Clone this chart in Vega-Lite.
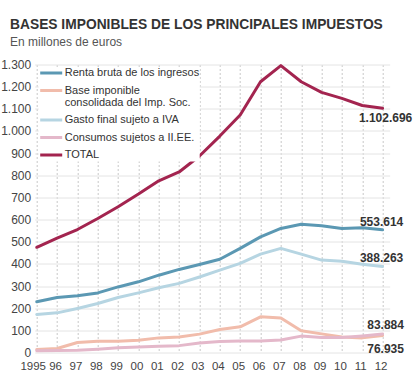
{
  "$schema": "https://vega.github.io/schema/vega-lite/v6.json",
  "autosize": {"type": "none"},
  "width": 355,
  "height": 288,
  "padding": {"left": 34.7, "top": 64.5, "right": 24.3, "bottom": 29.5},
  "background": "white",
  "title": {
    "text": "BASES IMPONIBLES DE LOS PRINCIPALES IMPUESTOS",
    "subtitle": "En millones de euros",
    "anchor": "start",
    "frame": "group",
    "dx": -24.7,
    "offset": 11,
    "font": "Liberation Sans",
    "fontSize": 13.8,
    "fontWeight": "bold",
    "color": "#333333",
    "subtitleFont": "Liberation Sans",
    "subtitleFontSize": 12,
    "subtitleColor": "#555555",
    "subtitlePadding": 5
  },
  "datasets": {
    "series": [
      {"year": 1995, "serie": "TOTAL", "value": 475},
      {"year": 1996, "serie": "TOTAL", "value": 516},
      {"year": 1997, "serie": "TOTAL", "value": 555},
      {"year": 1998, "serie": "TOTAL", "value": 605},
      {"year": 1999, "serie": "TOTAL", "value": 658},
      {"year": 2000, "serie": "TOTAL", "value": 715},
      {"year": 2001, "serie": "TOTAL", "value": 775},
      {"year": 2002, "serie": "TOTAL", "value": 815},
      {"year": 2003, "serie": "TOTAL", "value": 887},
      {"year": 2004, "serie": "TOTAL", "value": 977},
      {"year": 2005, "serie": "TOTAL", "value": 1072},
      {"year": 2006, "serie": "TOTAL", "value": 1222},
      {"year": 2007, "serie": "TOTAL", "value": 1295},
      {"year": 2008, "serie": "TOTAL", "value": 1222},
      {"year": 2009, "serie": "TOTAL", "value": 1174},
      {"year": 2010, "serie": "TOTAL", "value": 1147},
      {"year": 2011, "serie": "TOTAL", "value": 1115},
      {"year": 2012, "serie": "TOTAL", "value": 1102.696},
      {"year": 1995, "serie": "Renta bruta de los ingresos", "value": 229},
      {"year": 1996, "serie": "Renta bruta de los ingresos", "value": 248},
      {"year": 1997, "serie": "Renta bruta de los ingresos", "value": 256},
      {"year": 1998, "serie": "Renta bruta de los ingresos", "value": 269},
      {"year": 1999, "serie": "Renta bruta de los ingresos", "value": 296},
      {"year": 2000, "serie": "Renta bruta de los ingresos", "value": 319},
      {"year": 2001, "serie": "Renta bruta de los ingresos", "value": 349},
      {"year": 2002, "serie": "Renta bruta de los ingresos", "value": 375},
      {"year": 2003, "serie": "Renta bruta de los ingresos", "value": 397},
      {"year": 2004, "serie": "Renta bruta de los ingresos", "value": 421},
      {"year": 2005, "serie": "Renta bruta de los ingresos", "value": 470},
      {"year": 2006, "serie": "Renta bruta de los ingresos", "value": 522},
      {"year": 2007, "serie": "Renta bruta de los ingresos", "value": 560},
      {"year": 2008, "serie": "Renta bruta de los ingresos", "value": 579},
      {"year": 2009, "serie": "Renta bruta de los ingresos", "value": 572},
      {"year": 2010, "serie": "Renta bruta de los ingresos", "value": 560},
      {"year": 2011, "serie": "Renta bruta de los ingresos", "value": 563},
      {"year": 2012, "serie": "Renta bruta de los ingresos", "value": 553.614},
      {"year": 1995, "serie": "Gasto final sujeto a IVA", "value": 172},
      {"year": 1996, "serie": "Gasto final sujeto a IVA", "value": 179},
      {"year": 1997, "serie": "Gasto final sujeto a IVA", "value": 199},
      {"year": 1998, "serie": "Gasto final sujeto a IVA", "value": 221},
      {"year": 1999, "serie": "Gasto final sujeto a IVA", "value": 248},
      {"year": 2000, "serie": "Gasto final sujeto a IVA", "value": 269},
      {"year": 2001, "serie": "Gasto final sujeto a IVA", "value": 292},
      {"year": 2002, "serie": "Gasto final sujeto a IVA", "value": 312},
      {"year": 2003, "serie": "Gasto final sujeto a IVA", "value": 341},
      {"year": 2004, "serie": "Gasto final sujeto a IVA", "value": 372},
      {"year": 2005, "serie": "Gasto final sujeto a IVA", "value": 402},
      {"year": 2006, "serie": "Gasto final sujeto a IVA", "value": 444},
      {"year": 2007, "serie": "Gasto final sujeto a IVA", "value": 470},
      {"year": 2008, "serie": "Gasto final sujeto a IVA", "value": 444},
      {"year": 2009, "serie": "Gasto final sujeto a IVA", "value": 417},
      {"year": 2010, "serie": "Gasto final sujeto a IVA", "value": 412},
      {"year": 2011, "serie": "Gasto final sujeto a IVA", "value": 398},
      {"year": 2012, "serie": "Gasto final sujeto a IVA", "value": 388.263},
      {"year": 1995, "serie": "Base imponible consolidada del Imp. Soc.", "value": 14},
      {"year": 1996, "serie": "Base imponible consolidada del Imp. Soc.", "value": 18},
      {"year": 1997, "serie": "Base imponible consolidada del Imp. Soc.", "value": 45},
      {"year": 1998, "serie": "Base imponible consolidada del Imp. Soc.", "value": 51},
      {"year": 1999, "serie": "Base imponible consolidada del Imp. Soc.", "value": 51},
      {"year": 2000, "serie": "Base imponible consolidada del Imp. Soc.", "value": 55},
      {"year": 2001, "serie": "Base imponible consolidada del Imp. Soc.", "value": 66},
      {"year": 2002, "serie": "Base imponible consolidada del Imp. Soc.", "value": 70},
      {"year": 2003, "serie": "Base imponible consolidada del Imp. Soc.", "value": 83},
      {"year": 2004, "serie": "Base imponible consolidada del Imp. Soc.", "value": 104},
      {"year": 2005, "serie": "Base imponible consolidada del Imp. Soc.", "value": 116},
      {"year": 2006, "serie": "Base imponible consolidada del Imp. Soc.", "value": 161},
      {"year": 2007, "serie": "Base imponible consolidada del Imp. Soc.", "value": 156},
      {"year": 2008, "serie": "Base imponible consolidada del Imp. Soc.", "value": 98},
      {"year": 2009, "serie": "Base imponible consolidada del Imp. Soc.", "value": 84},
      {"year": 2010, "serie": "Base imponible consolidada del Imp. Soc.", "value": 70},
      {"year": 2011, "serie": "Base imponible consolidada del Imp. Soc.", "value": 66},
      {"year": 2012, "serie": "Base imponible consolidada del Imp. Soc.", "value": 76.935},
      {"year": 1995, "serie": "Consumos sujetos a II.EE.", "value": 8},
      {"year": 1996, "serie": "Consumos sujetos a II.EE.", "value": 9},
      {"year": 1997, "serie": "Consumos sujetos a II.EE.", "value": 10},
      {"year": 1998, "serie": "Consumos sujetos a II.EE.", "value": 15},
      {"year": 1999, "serie": "Consumos sujetos a II.EE.", "value": 21},
      {"year": 2000, "serie": "Consumos sujetos a II.EE.", "value": 25},
      {"year": 2001, "serie": "Consumos sujetos a II.EE.", "value": 28},
      {"year": 2002, "serie": "Consumos sujetos a II.EE.", "value": 31},
      {"year": 2003, "serie": "Consumos sujetos a II.EE.", "value": 43},
      {"year": 2004, "serie": "Consumos sujetos a II.EE.", "value": 50},
      {"year": 2005, "serie": "Consumos sujetos a II.EE.", "value": 52},
      {"year": 2006, "serie": "Consumos sujetos a II.EE.", "value": 52},
      {"year": 2007, "serie": "Consumos sujetos a II.EE.", "value": 56},
      {"year": 2008, "serie": "Consumos sujetos a II.EE.", "value": 74},
      {"year": 2009, "serie": "Consumos sujetos a II.EE.", "value": 68},
      {"year": 2010, "serie": "Consumos sujetos a II.EE.", "value": 68},
      {"year": 2011, "serie": "Consumos sujetos a II.EE.", "value": 75},
      {"year": 2012, "serie": "Consumos sujetos a II.EE.", "value": 83.884}
    ],
    "labels": [
      {"year": 2012, "value": 1102.696, "label": "1.102.696", "pos": "below"},
      {"year": 2012, "value": 553.614, "label": "553.614", "pos": "above"},
      {"year": 2012, "value": 388.263, "label": "388.263", "pos": "above"},
      {"year": 2012, "value": 83.884, "label": "83.884", "pos": "above2"},
      {"year": 2012, "value": 76.935, "label": "76.935", "pos": "below2"}
    ]
  },
  "encoding": {
    "x": {
      "field": "year",
      "type": "quantitative",
      "scale": {"domain": [1994.9, 2012.35], "nice": false, "zero": false},
      "axis": {
        "values": [1995, 1996, 1997, 1998, 1999, 2000, 2001, 2002, 2003, 2004, 2005, 2006, 2007, 2008, 2009, 2010, 2011, 2012],
        "title": null,
        "labelExpr": "datum.value == 1995 ? '1995' : slice(toString(datum.value), 2)",
        "grid": true,
        "gridDash": [2, 2],
        "gridColor": "#c8c8c8",
        "ticks": false,
        "domain": false,
        "labelPadding": 8,
        "labelOffset": {"condition": {"test": "datum.value == 1995", "value": -4}, "value": -2},
        "labelFont": "Liberation Sans",
        "labelFontSize": 11.5,
        "labelColor": "#444444",
        "labelFlush": false,
        "labelOverlap": false
      }
    },
    "y": {
      "field": "value",
      "type": "quantitative",
      "scale": {"domain": [0, 1300], "nice": false},
      "axis": {
        "values": [0, 100, 200, 300, 400, 500, 600, 700, 800, 900, 1000, 1100, 1200, 1300],
        "title": null,
        "labelExpr": "replace(format(datum.value, ','), ',', '.')",
        "grid": true,
        "gridColor": "#e4e4e4",
        "ticks": false,
        "domain": false,
        "labelPadding": 4,
        "labelFont": "Liberation Sans",
        "labelFontSize": 12,
        "labelColor": "#444444"
      }
    }
  },
  "layer": [
    {
      "data": {"name": "series"},
      "mark": {"type": "line", "strokeWidth": 3, "strokeCap": "round", "strokeJoin": "round"},
      "encoding": {
        "color": {
          "field": "serie",
          "type": "nominal",
          "scale": {
            "domain": ["Renta bruta de los ingresos", "Base imponible consolidada del Imp. Soc.", "Gasto final sujeto a IVA", "Consumos sujetos a II.EE.", "TOTAL"],
            "range": ["#5b98b3", "#f1bcab", "#b6d5e2", "#e4b8ca", "#a3244f"]
          },
          "legend": {
            "title": null,
            "orient": "none",
            "legendX": 4,
            "legendY": 3,
            "fillColor": "white",
            "padding": 0,
            "symbolType": "M-1,0L4.5,0",
            "symbolStrokeWidth": 3,
            "symbolSize": 64,
            "labelOffset": 15,
            "labelFont": "Liberation Sans",
            "labelFontSize": 11,
            "labelColor": "#333333",
            "labelLimit": 220,
            "rowPadding": 4.5,
            "labelExpr": "datum.label == 'Base imponible consolidada del Imp. Soc.' ? ['Base imponible', 'consolidada del Imp. Soc.'] : datum.label",
            "encode": {
              "labels": {
                "update": {
                  "lineHeight": {"value": 12.6}
                }
              }
            }
          }
        }
      }
    },
    {
      "data": {"name": "labels"},
      "transform": [{"filter": "datum.pos == 'below'"}],
      "mark": {"type": "text", "font": "Liberation Sans", "fontSize": 12, "fontWeight": "bold", "color": "#333333", "align": "center", "dx": 3, "dy": 10},
      "encoding": {"text": {"field": "label"}}
    },
    {
      "data": {"name": "labels"},
      "transform": [{"filter": "datum.pos == 'above'"}],
      "mark": {"type": "text", "font": "Liberation Sans", "fontSize": 12, "fontWeight": "bold", "color": "#333333", "align": "center", "dx": -1, "dy": -8},
      "encoding": {"text": {"field": "label"}}
    },
    {
      "data": {"name": "labels"},
      "transform": [{"filter": "datum.pos == 'above2'"}],
      "mark": {"type": "text", "font": "Liberation Sans", "fontSize": 12, "fontWeight": "bold", "color": "#333333", "align": "center", "dx": 3, "dy": -9},
      "encoding": {"text": {"field": "label"}}
    },
    {
      "data": {"name": "labels"},
      "transform": [{"filter": "datum.pos == 'below2'"}],
      "mark": {"type": "text", "font": "Liberation Sans", "fontSize": 12, "fontWeight": "bold", "color": "#333333", "align": "center", "dx": 3, "dy": 14},
      "encoding": {"text": {"field": "label"}}
    }
  ],
  "config": {"view": {"stroke": null}}
}
